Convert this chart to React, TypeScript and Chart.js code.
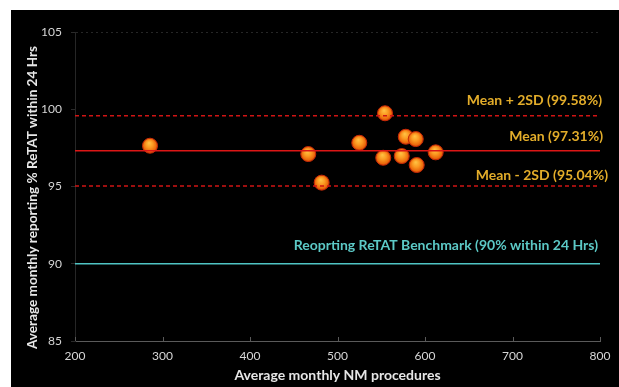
import React, { useEffect, useRef } from "react";
import { Chart, registerables } from "chart.js";

Chart.register(...registerables);

const procedures = [285.7, 466.6, 481.9, 524.9, 554.3, 552.3, 573.4, 578, 589.4, 590.5, 612.2];
const retatPct = [97.64, 97.1, 95.25, 97.83, 99.74, 96.86, 96.97, 98.22, 98.07, 96.39, 97.21];

const meanValue = 97.31;
const upperValue = 99.58;
const lowerValue = 95.04;
const benchmarkValue = 90;

const xRange = [200, 800];
const yRange = [85, 105];

const xTitle = "Average monthly NM procedures";
const yTitle = "Average monthly reporting % ReTAT within 24 Hrs";

const refLabels = [
  "Mean + 2SD (99.58%)",
  "Mean (97.31%)",
  "Mean - 2SD (95.04%)",
  "Reoprting ReTAT Benchmark (90% within 24 Hrs)",
];
const refValues = [upperValue, meanValue, lowerValue, benchmarkValue];

const FONT = "Lato, 'Open Sans', sans-serif";

function hLine(v: number) {
  return [
    { x: xRange[0], y: v },
    { x: xRange[1], y: v },
  ];
}

export default function App() {
  const ref = useRef<HTMLCanvasElement | null>(null);

  useEffect(() => {
    if (!ref.current) return;

    const labelStyles = [
      { color: "#e3ad2a", dx: 2, dy: -15 },
      { color: "#e3ad2a", dx: 3, dy: -14 },
      { color: "#e3ad2a", dx: 8, dy: -10 },
      { color: "#5cc9c6", dx: -2, dy: -18 },
    ];

    const labelPlugin = {
      id: "refLabels",
      afterDatasetsDraw(chart: any) {
        const { ctx, chartArea, scales } = chart;
        ctx.save();
        ctx.font = `bold 14px ${FONT}`;
        ctx.textAlign = "right";
        ctx.textBaseline = "middle";
        refLabels.forEach((t, i) => {
          const s = labelStyles[i];
          const y = scales.y.getPixelForValue(refValues[i]) + s.dy;
          ctx.fillStyle = s.color;
          ctx.fillText(t, chartArea.right + s.dx, y);
        });
        // small inside tick marks on x axis
        ctx.strokeStyle = "#5a5a5a";
        ctx.lineWidth = 1;
        for (let v = xRange[0]; v <= xRange[1]; v += 100) {
          const x = Math.round(scales.x.getPixelForValue(v)) + 0.5;
          ctx.beginPath();
          ctx.moveTo(x, chartArea.bottom);
          ctx.lineTo(x, chartArea.bottom - 4);
          ctx.stroke();
        }
        // y axis title (slightly below the plot centre, as in the original)
        ctx.translate(22, (chartArea.top + chartArea.bottom) / 2 + 11);
        ctx.rotate(-Math.PI / 2);
        ctx.textAlign = "center";
        ctx.font = `bold 13.6px ${FONT}`;
        ctx.fillStyle = "#e6e6e6";
        ctx.fillText(yTitle, 0, 0);
        ctx.restore();
      },
    };

    const sphere = (c: any) => {
      if (c.type !== "data" || !c.raw) return "#f07a16";
      const chart = c.chart;
      const sx = chart.scales.x;
      const sy = chart.scales.y;
      if (!sx || !sy) return "#f07a16";
      const x = sx.getPixelForValue(c.raw.x);
      const y = sy.getPixelForValue(c.raw.y);
      if (!isFinite(x) || !isFinite(y)) return "#f07a16";
      const g = chart.ctx.createRadialGradient(x - 1, y - 3, 0, x, y, 8);
      g.addColorStop(0, "#ffc445");
      g.addColorStop(0.45, "#fb9a22");
      g.addColorStop(0.8, "#ec6a0c");
      g.addColorStop(1, "#c83a04");
      return g;
    };

    const chart = new Chart(ref.current, {
      type: "scatter",
      data: {
        datasets: [
          {
            type: "line",
            data: hLine(upperValue),
            borderColor: "#d01414",
            borderWidth: 1.5,
            borderDash: [4, 3],
            pointRadius: 0,
            fill: false,
          } as any,
          {
            type: "line",
            data: hLine(meanValue),
            borderColor: "#dc1616",
            borderWidth: 1.6,
            pointRadius: 0,
            fill: false,
          } as any,
          {
            type: "line",
            data: hLine(lowerValue),
            borderColor: "#d01414",
            borderWidth: 1.5,
            borderDash: [4, 3],
            pointRadius: 0,
            fill: false,
          } as any,
          {
            type: "line",
            data: hLine(benchmarkValue),
            borderColor: "#4fc4c4",
            borderWidth: 1.6,
            pointRadius: 0,
            fill: false,
          } as any,
          {
            type: "scatter",
            data: procedures.map((x, i) => ({ x, y: retatPct[i] })),
            backgroundColor: sphere,
            borderColor: "#c82a08",
            borderWidth: 1,
            pointRadius: 7.5,
          } as any,
        ],
      },
      options: {
        animation: false,
        responsive: true,
        maintainAspectRatio: false,
        layout: { padding: { left: 0, right: 19, top: 22, bottom: 0 } },
        plugins: {
          legend: { display: false },
          tooltip: { enabled: false },
        },
        scales: {
          x: {
            type: "linear",
            min: xRange[0],
            max: xRange[1],
            afterFit: (s: any) => {
              s.height = 46;
            },
            ticks: {
              stepSize: 100,
              color: "#d6d6d6",
              font: { family: FONT, size: 12 },
              padding: 8,
            },
            grid: { display: false, drawTicks: false },
            border: { display: true, color: "#5a5a5a", width: 1 },
            title: {
              display: true,
              text: xTitle,
              color: "#e6e6e6",
              font: { family: FONT, size: 14, weight: "bold" },
              padding: { top: 0, bottom: 3 },
            },
          },
          y: {
            type: "linear",
            min: yRange[0],
            max: yRange[1],
            afterFit: (s: any) => {
              s.width = 64;
            },
            ticks: {
              stepSize: 5,
              color: "#d6d6d6",
              font: { family: FONT, size: 12 },
              padding: 9,
            },
            grid: {
              drawOnChartArea: true,
              drawTicks: true,
              tickLength: 4,
              tickColor: "#2a2a2a",
              color: (c: any) => (c.tick && c.tick.value === 105 ? "#262626" : "rgba(0,0,0,0)"),
            },
            border: { display: true, color: "#262626", width: 1, dash: [2, 3] },
            title: { display: false },
          },
        },
      },
      plugins: [labelPlugin],
    });

    return () => chart.destroy();
  }, []);

  return (
    <div
      style={{
        position: "fixed",
        left: 11,
        top: 10,
        width: 608,
        height: 377,
        background: "#000",
      }}
    >
      <canvas ref={ref} />
    </div>
  );
}
